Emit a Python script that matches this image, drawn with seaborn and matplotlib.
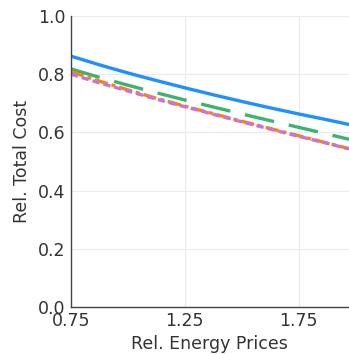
import matplotlib
matplotlib.use("Agg")
import matplotlib.pyplot as plt
import seaborn as sns
import pandas as pd

# Relative energy price levels and the resulting relative total cost per scenario
energy_prices = [0.75, 0.875, 1.0, 1.125, 1.25, 1.375, 1.5, 1.625, 1.75, 1.875, 1.97]
cost_base = [0.862, 0.832, 0.804, 0.778, 0.753, 0.729, 0.706, 0.684, 0.663, 0.643, 0.627]
cost_b = [0.818, 0.789, 0.762, 0.736, 0.711, 0.687, 0.663, 0.640, 0.617, 0.594, 0.576]
cost_c = [0.808, 0.776, 0.746, 0.717, 0.690, 0.664, 0.638, 0.613, 0.588, 0.563, 0.544]
cost_d = [0.800, 0.770, 0.742, 0.714, 0.688, 0.662, 0.636, 0.611, 0.586, 0.562, 0.543]

series = ["base", "b", "c", "d"]
values = [cost_base, cost_b, cost_c, cost_d]
colors = ["#1e90ff", "#3cb371", "#ff7f0e", "#c774d8"]
dashes = [None, (9.0, 4.5), (4, 1.2, 1.2, 1.2), (2.2, 1.2)]

x_ticks = [0.75, 1.25, 1.75]
y_ticks = [0.0, 0.2, 0.4, 0.6, 0.8, 1.0]

df = pd.DataFrame({
    "price": energy_prices * len(series),
    "cost": sum(values, []),
    "scenario": [s for s in series for _ in energy_prices],
})

sns.set_style("whitegrid")
plt.rcParams["font.family"] = ["DejaVu Sans"]

fig = plt.figure(figsize=(3.49, 3.54), dpi=100)
ax = fig.add_axes([0.203, 0.133, 0.797, 0.822])

for s, c, d in zip(series, colors, dashes):
    sub = df[df["scenario"] == s]
    sns.lineplot(data=sub, x="price", y="cost", ax=ax, color=c,
                 linewidth=2.4, legend=False)
    if d is not None:
        ax.lines[-1].set_dashes(d)

ax.set_xlim(0.75, 1.97)
ax.set_ylim(0.0, 1.0)
ax.set_xticks(x_ticks)
ax.set_xticklabels([f"{t:.2f}" for t in x_ticks])
ax.set_yticks(y_ticks)
ax.set_yticklabels([f"{t:.1f}" for t in y_ticks])
ax.set_xlabel("Rel. Energy Prices", fontsize=12.5, color="#333333", labelpad=3)
ax.set_ylabel("Rel. Total Cost", fontsize=12.5, color="#333333", labelpad=5)

ax.grid(True, color="#ebebeb", linewidth=0.8)
for side in ["top", "right"]:
    ax.spines[side].set_visible(False)
for side in ["left", "bottom"]:
    ax.spines[side].set_visible(True)
    ax.spines[side].set_color("#444444")
    ax.spines[side].set_linewidth(1.0)
ax.tick_params(axis="both", direction="in", length=4, width=1, color="#444444",
               labelsize=12.5, labelcolor="#333333")
ax.tick_params(axis="x", pad=4)
ax.tick_params(axis="y", pad=4)

fig.savefig("out.png", dpi=100)
